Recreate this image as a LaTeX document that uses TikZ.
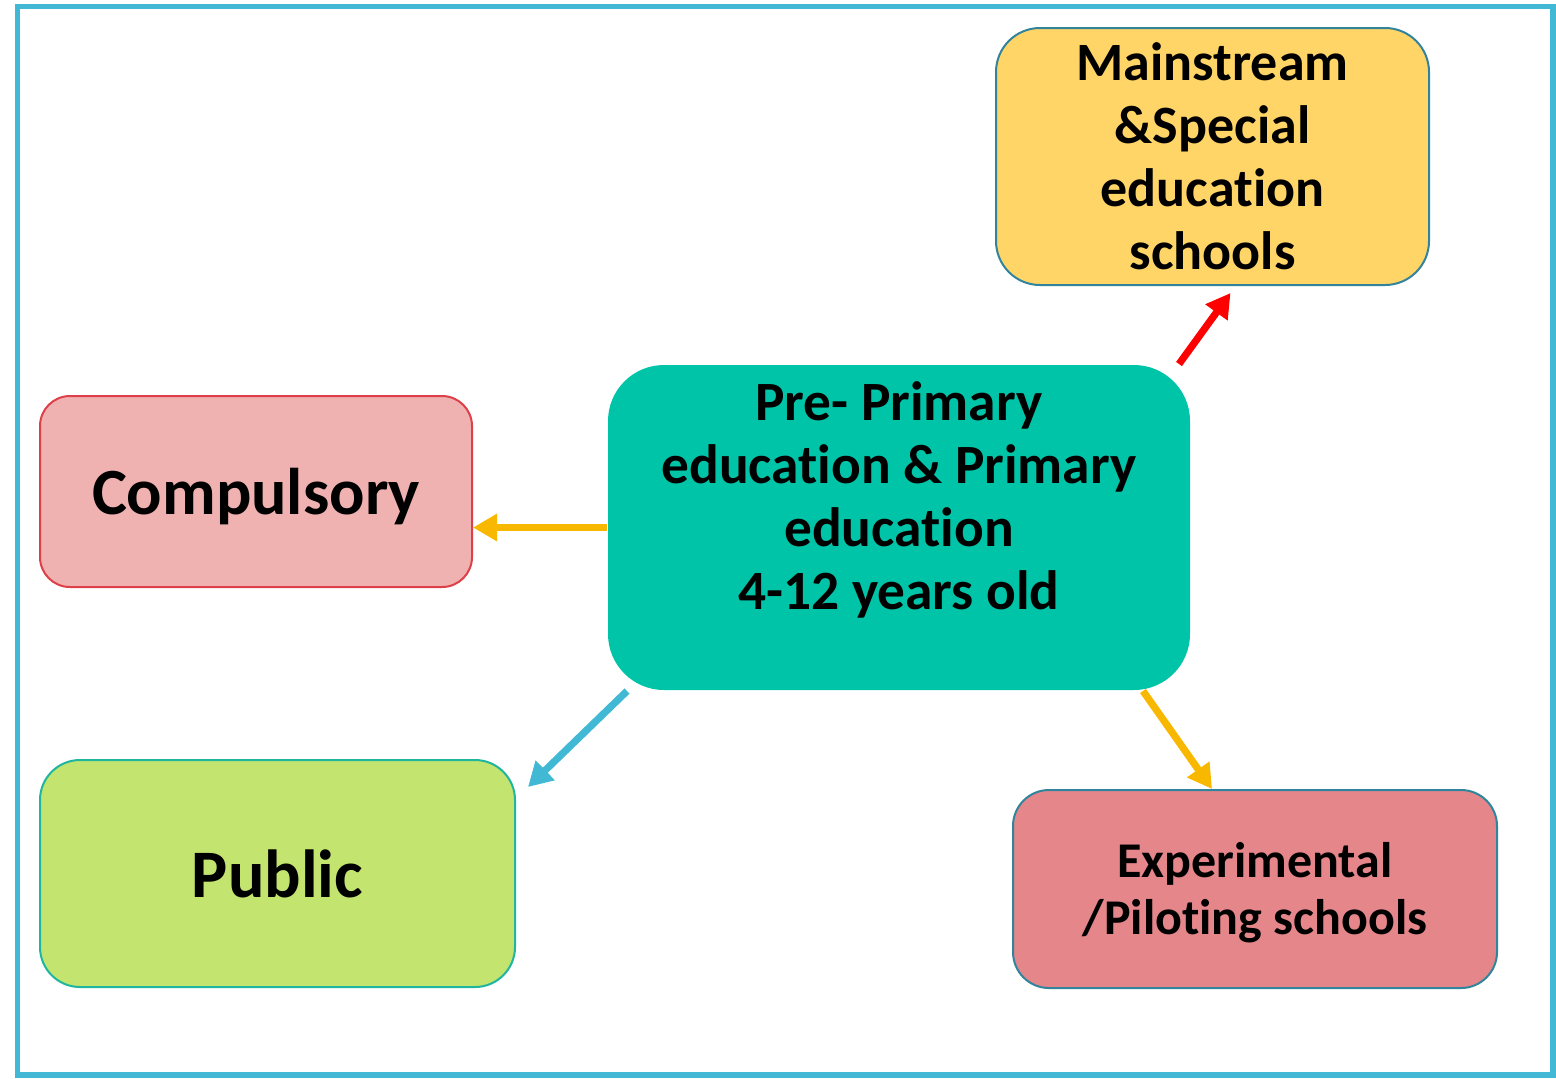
\documentclass[tikz,border=0pt]{standalone}
\usepackage{fontspec}
\setmainfont{Carlito}[Ligatures=NoCommon]
\usetikzlibrary{calc,arrows.meta,positioning}
\definecolor{TZFrame}{HTML}{42B9D4}
\definecolor{TZTeal}{HTML}{00C4A8}
\definecolor{TZSea}{HTML}{31849B}
\definecolor{TZGold}{HTML}{FFD567}
\definecolor{TZRose}{HTML}{F0B1B1}
\definecolor{TZRoseLine}{HTML}{DD4048}
\definecolor{TZLime}{HTML}{C3E46F}
\definecolor{TZLimeLine}{HTML}{1FB59E}
\definecolor{TZCoral}{HTML}{E5868B}
\definecolor{TZAmber}{HTML}{F9B800}
\tikzset{
    block/.style = {draw, rectangle, line width=1pt,
        rounded corners=20pt, inner sep=0pt, align=center},
    txt/.style = {inner sep=0pt, align=center},
    arrow/.style = {draw, line width=3.6pt, -{Triangle[length=12pt,width=13pt]}}
}

\begin{document}
\begin{tikzpicture}[x=0.5pt, y=-0.5pt]
        \useasboundingbox (0,0) rectangle (1556,1078);
        \draw [TZFrame, line width=2.6pt] (17.5,6.5) rectangle (1553,1075);
        % centre box
        \node [block, draw=none, fill=TZTeal, rounded corners=28pt,
            minimum width=291pt, minimum height=162.5pt] (main) at (899,527.5) {};
        \node [txt, font=\bfseries\fontsize{27.7}{31.5}\selectfont] (maintext) at (899,500)
            {Pre- Primary\\education \& Primary\\education\\4-12 years old};
        % outer boxes
        \node [block, fill=TZGold, draw=TZSea, rounded corners=22pt,
            minimum width=216.5pt, minimum height=128.5pt,
            font=\bfseries\fontsize{27}{31.5}\selectfont] (mains) at (1212.5,156.5)
            {Mainstream\\\&Special\\education\\schools};
        \node [block, fill=TZRose, draw=TZRoseLine, rounded corners=15pt,
            minimum width=216pt, minimum height=95.5pt] (comp) at (256,491.5) {};
        \node [txt, font=\bfseries\fontsize{33}{40}\selectfont] (comptext) at (256,497) {Compulsory};
        \node [block, fill=TZCoral, draw=TZSea, rounded corners=18pt,
            minimum width=242pt, minimum height=99pt] (exper) at (1255,889) {};
        \node [txt, font=\bfseries\fontsize{25}{28.5}\selectfont] (expertext) at (1255,893)
            {Experimental\\/Piloting schools};
        \node [block, fill=TZLime, draw=TZLimeLine, rounded corners=20pt,
            minimum width=237.5pt, minimum height=113.5pt,
            font=\bfseries\fontsize{34}{40}\selectfont] (public) at (277.5,873.5) {Public};
        % connectors
        \draw [arrow, red] ($(main.north east)+(-12,0)$) -- ($(mains.south)+(18,7)$);
        \draw [arrow, TZAmber] (main.west) -- (main.west -| comp.east);
        \draw [arrow, TZFrame] ($(main.south west)+(20,0)$) -- ($(public.north east)+(12,28)$);
        \draw [arrow, TZAmber] ($(main.south east)+(-48,0)$) -- ($(exper.north)+(-43,0)$);
\end{tikzpicture}
\end{document}
